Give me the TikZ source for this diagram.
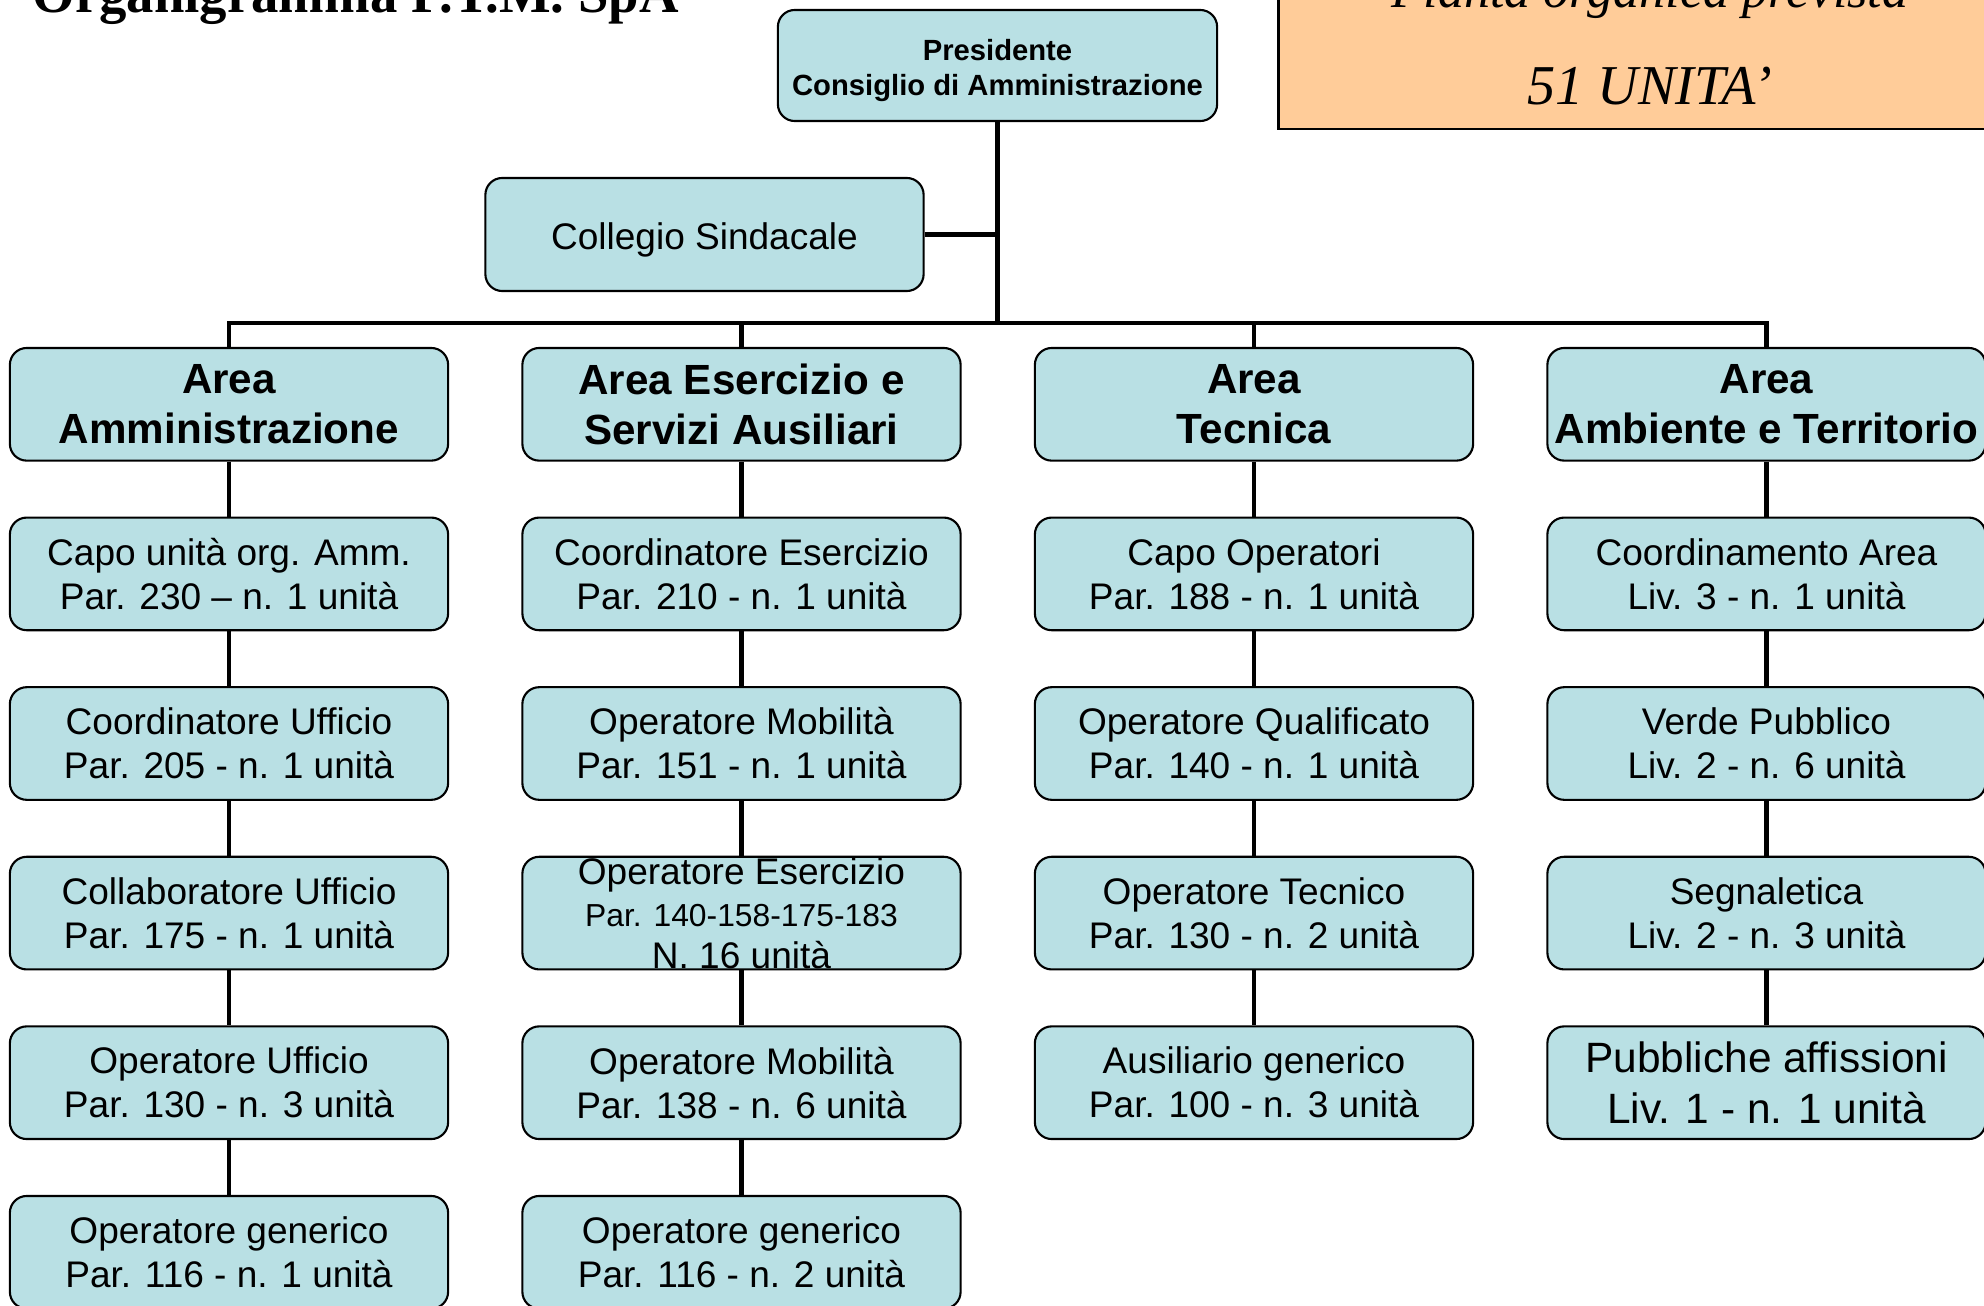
\documentclass[tikz,border=0pt]{standalone}
\usepackage{fontspec}
\setmainfont{Liberation Sans}
\newfontfamily\titlefont{Liberation Serif}
\usepackage{tikz}

\definecolor{boxblue}{RGB}{185,224,228}
\definecolor{piantaorange}{RGB}{255,204,153}

\tikzset{
  unitbox/.style={draw=black, line width=0.6pt, fill=boxblue, rounded corners=4.8pt,
    minimum width=4.38cm, minimum height=1.126cm, inner sep=0pt, align=center,
    font=\fontsize{10.53}{12.5}\selectfont},
  areabox/.style={unitbox, font=\bfseries\fontsize{12}{14.4}\selectfont},
  link/.style={line width=1.15pt},
}

\begin{document}
\begin{tikzpicture}[x=0.01cm, y=-0.01cm]
\path[use as bounding box, clip] (0,0) rectangle (1984,1306);

\node[anchor=base west, inner sep=0pt, font=\titlefont\bfseries\fontsize{15.56}{18}\selectfont] (titolo) at (32,12) {Organigramma P.T.M. SpA};

\node[draw=black, line width=0.8pt, fill=piantaorange, minimum width=7.42cm, minimum height=1.89cm, inner sep=0pt] (pianta) at (1650,34.5) {};
\node[anchor=base, inner sep=0pt, font=\titlefont\itshape\fontsize{14.8}{18}\selectfont] (prevista) at (1650,8) {Pianta organica prevista};
\node[anchor=base, inner sep=0pt, font=\titlefont\itshape\fontsize{16}{19}\selectfont] (totale) at (1650,104) {51 UNITA’};

\node[unitbox, minimum width=4.39cm, minimum height=1.11cm, font=\bfseries\fontsize{8.31}{9.96}\selectfont] (pres) at (997.5,65.5) {\rule{0pt}{9pt}Presidente\\Consiglio di Amministrazione};
\node[unitbox, minimum height=1.13cm] (coll) at (704.5,234.5) {\rule{0pt}{10.5pt}Collegio Sindacale};
\coordinate (bus) at (997.5,323);

\node[areabox] (amm) at (229,404.3) {Area\\Amministrazione};
\node[areabox] (ese) at (741.5,404.3) {Area Esercizio e\\Servizi Ausiliari};
\node[areabox] (tec) at (1254,404.3) {Area\\Tecnica};
\node[areabox] (amb) at (1766.5,404.3) {Area\\Ambiente e Territorio};

\node[unitbox] (amm1) at (229,573.9) {Capo unità org. Amm.\\Par. 230 – n. 1 unità};
\node[unitbox] (amm2) at (229,743.5) {Coordinatore Ufficio\\Par. 205 - n. 1 unità};
\node[unitbox] (amm3) at (229,913.1) {Collaboratore Ufficio\\Par. 175 - n. 1 unità};
\node[unitbox] (amm4) at (229,1082.7) {Operatore Ufficio\\Par. 130 - n. 3 unità};
\node[unitbox] (amm5) at (229,1252.3) {Operatore generico\\Par. 116 - n. 1 unità};

\node[unitbox] (ese1) at (741.5,573.9) {Coordinatore Esercizio\\Par. 210 - n. 1 unità};
\node[unitbox] (ese2) at (741.5,743.5) {Operatore Mobilità\\Par. 151 - n. 1 unità};
\node[unitbox] (ese3) at (741.5,913.1) {\smash{\raisebox{-4.2pt}{\fontsize{10.53}{11.95}\selectfont
  \begin{tabular}{@{}c@{}}Operatore Esercizio\\{\fontsize{9.05}{10}\selectfont Par. 140-158-175-183}\\N. 16 unità\end{tabular}}}};
\node[unitbox] (ese4) at (741.5,1082.7) {Operatore Mobilità\\Par. 138 - n. 6 unità};
\node[unitbox] (ese5) at (741.5,1252.3) {Operatore generico\\Par. 116 - n. 2 unità};

\node[unitbox] (tec1) at (1254,573.9) {Capo Operatori\\Par. 188 - n. 1 unità};
\node[unitbox] (tec2) at (1254,743.5) {Operatore Qualificato\\Par. 140 - n. 1 unità};
\node[unitbox] (tec3) at (1254,913.1) {Operatore Tecnico\\Par. 130 - n. 2 unità};
\node[unitbox] (tec4) at (1254,1082.7) {Ausiliario generico\\Par. 100 - n. 3 unità};

\node[unitbox] (amb1) at (1766.5,573.9) {Coordinamento Area\\Liv. 3 - n. 1 unità};
\node[unitbox] (amb2) at (1766.5,743.5) {Verde Pubblico\\Liv. 2 - n. 6 unità};
\node[unitbox] (amb3) at (1766.5,913.1) {Segnaletica\\Liv. 2 - n. 3 unità};
\node[unitbox, font=\fontsize{12.06}{14.4}\selectfont] (amb4) at (1766.5,1082.7) {Pubbliche affissioni\\Liv. 1 - n. 1 unità};

% vertici
\draw[link] (pres) -- (bus);
\draw[link] (coll) -- (coll -| bus);
\draw[link] (amm) |- (bus) -| (amb);
\draw[link] (ese) -- (ese |- bus);
\draw[link] (tec) -- (tec |- bus);

% colonne
\draw[link] (amm) -- (amm1);
\draw[link] (amm1) -- (amm2);
\draw[link] (amm2) -- (amm3);
\draw[link] (amm3) -- (amm4);
\draw[link] (amm4) -- (amm5);
\draw[link] (ese) -- (ese1);
\draw[link] (ese1) -- (ese2);
\draw[link] (ese2) -- (ese3);
\draw[link] (ese3) -- (ese4);
\draw[link] (ese4) -- (ese5);
\draw[link] (tec) -- (tec1);
\draw[link] (tec1) -- (tec2);
\draw[link] (tec2) -- (tec3);
\draw[link] (tec3) -- (tec4);
\draw[link] (amb) -- (amb1);
\draw[link] (amb1) -- (amb2);
\draw[link] (amb2) -- (amb3);
\draw[link] (amb3) -- (amb4);
\end{tikzpicture}
\end{document}
